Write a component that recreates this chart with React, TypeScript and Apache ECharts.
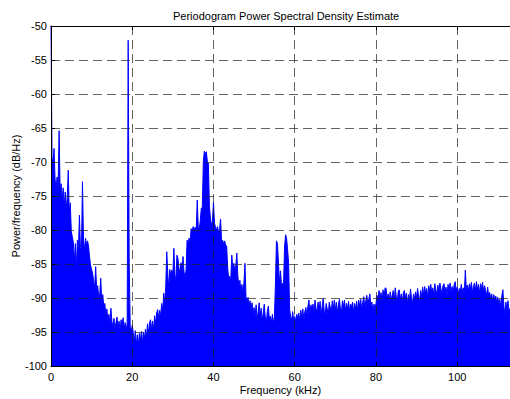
import React, { useEffect, useRef } from "react";
import * as echarts from "echarts";

// Frequency grid step (kHz) of the periodogram samples below
const freqStepKHz = 0.25;
const freqMaxKHz = 113;

// Power spectral density (dB/Hz), one value every 0.25 kHz starting at 0 kHz
const psd0to5 = [-50.0, -69.2, -70.4, -68.0, -72.5, -73.8, -72.2, -73.5, -65.4, -74.2, -73.2, -75.6, -73.8, -76.5, -74.4, -76.8, -75.2, -71.2, -77.5, -76.0];
const psd5to10 = [-80.2, -81.0, -81.8, -84.5, -82.0, -85.6, -81.5, -83.2, -77.8, -82.6, -83.0, -72.9, -81.5, -82.8, -81.2, -82.2, -81.6, -82.4, -84.0, -85.2];
const psd10to15 = [-85.8, -86.4, -87.5, -88.6, -85.4, -89.0, -88.2, -90.0, -89.4, -87.1, -90.6, -89.5, -91.4, -90.8, -92.5, -91.6, -93.2, -92.4, -93.6, -91.5];
const psd15to20 = [-93.5, -94.2, -93.0, -94.6, -93.6, -92.8, -94.4, -93.4, -94.8, -93.2, -94.0, -92.9, -94.5, -93.6, -94.7, -93.8, -52.1, -84.9, -94.2, -95.0];
const psd20to25 = [-94.0, -95.1, -96.5, -94.8, -96.8, -95.4, -97.0, -95.2, -96.2, -94.9, -96.6, -95.0, -96.0, -94.6, -95.8, -93.8, -95.2, -93.6, -93.2, -94.6];
const psd25to30 = [-93.4, -94.8, -92.6, -93.8, -92.2, -91.7, -93.0, -91.8, -92.6, -90.8, -91.9, -89.3, -90.6, -88.2, -83.2, -86.4, -88.6, -85.8, -86.8, -85.9];
const psd30to35 = [-86.5, -82.7, -86.6, -87.3, -83.7, -84.2, -85.6, -86.3, -84.8, -86.0, -83.9, -86.2, -86.8, -85.9, -81.5, -82.0, -81.2, -81.9, -79.8, -80.2];
const psd35to40 = [-79.5, -80.0, -79.6, -80.1, -75.6, -79.6, -79.9, -78.6, -76.8, -76.7, -70.0, -68.4, -68.8, -68.5, -70.0, -70.2, -76.6, -78.2, -79.4, -78.6];
const psd40to45 = [-75.9, -79.0, -79.6, -80.0, -79.5, -80.4, -79.8, -78.4, -81.8, -81.5, -82.0, -81.6, -82.2, -82.4, -85.6, -87.3, -86.8, -87.4, -83.7, -85.4];
const psd45to50 = [-84.9, -85.9, -85.2, -83.4, -86.8, -88.2, -87.4, -89.0, -88.0, -89.3, -87.8, -84.9, -89.8, -90.6, -89.9, -91.2, -90.4, -91.6, -90.7, -92.2];
const psd50to55 = [-91.4, -92.8, -91.0, -93.2, -92.0, -90.7, -92.6, -91.5, -93.4, -92.2, -90.9, -92.8, -93.7, -92.0, -91.2, -93.0, -92.7, -93.6, -92.4, -93.7];
const psd55to60 = [-92.8, -88.0, -81.6, -82.0, -84.9, -87.8, -86.0, -88.3, -87.8, -88.0, -82.5, -80.7, -81.2, -82.9, -84.9, -91.7, -92.8, -93.2, -92.0, -93.4];
const psd60to65 = [-92.7, -93.5, -92.4, -93.0, -92.2, -93.4, -91.8, -92.9, -91.6, -93.3, -92.0, -91.4, -92.6, -91.2, -90.3, -92.4, -91.0, -91.8, -90.9, -92.2];
const psd65to70 = [-90.3, -91.6, -92.1, -90.6, -91.8, -90.5, -92.4, -91.3, -90.1, -91.9, -92.3, -90.8, -91.6, -92.6, -90.6, -91.4, -92.0, -90.4, -91.7, -90.3];
const psd70to75 = [-91.8, -90.6, -92.2, -91.0, -90.2, -91.5, -92.1, -90.4, -91.2, -90.3, -91.9, -90.8, -91.6, -90.5, -92.0, -90.9, -91.3, -90.6, -92.2, -90.8];
const psd75to80 = [-91.6, -90.5, -91.9, -90.3, -91.2, -90.2, -91.8, -90.6, -89.8, -91.4, -90.4, -89.6, -91.0, -90.1, -89.4, -91.3, -90.6, -92.0, -90.9, -91.6];
const psd80to85 = [-90.8, -89.6, -90.4, -88.9, -90.0, -89.2, -90.6, -88.8, -89.9, -88.5, -88.6, -90.2, -89.4, -90.6, -89.1, -90.3, -89.6, -88.9, -90.4, -88.5];
const psd85to90 = [-89.8, -90.5, -89.0, -88.8, -90.2, -89.4, -90.6, -89.2, -88.9, -90.0, -89.3, -90.8, -89.5, -90.4, -88.7, -89.9, -90.9, -89.4, -90.2, -89.1];
const psd90to95 = [-90.0, -88.6, -89.7, -90.5, -88.9, -89.8, -88.4, -89.6, -88.3, -89.4, -88.6, -89.9, -88.2, -89.1, -88.0, -89.3, -88.5, -89.6, -87.9, -88.8];
const psd95to100 = [-89.5, -88.1, -89.0, -87.8, -88.7, -89.4, -88.2, -87.9, -89.1, -88.4, -89.6, -88.0, -88.9, -87.8, -89.2, -88.3, -89.0, -88.1, -87.6, -88.9];
const psd100to105 = [-88.4, -89.5, -88.6, -89.3, -88.0, -89.1, -88.5, -89.4, -85.9, -88.7, -88.1, -89.0, -87.9, -88.6, -87.7, -89.2, -88.3, -87.8, -88.9, -87.6];
const psd105to110 = [-88.8, -88.0, -89.3, -87.9, -88.6, -87.7, -89.1, -88.2, -88.9, -89.6, -88.4, -89.8, -89.2, -90.1, -89.4, -90.6, -89.5, -90.3, -89.7, -90.7];
const psd110to113 = [-89.9, -90.8, -90.2, -91.4, -89.6, -88.8, -91.2, -92.5, -90.6, -91.8, -90.4, -92.1, -91.5];

const yTicks = { min: -100, max: -50, interval: 5 };
const xTicks = { min: 0, max: freqMaxKHz, interval: 20 };

const titleText = "Periodogram Power Spectral Density Estimate";
const xLabel = "Frequency (kHz)";
const yLabel = "Power/frequency (dB/Hz)";

const psd = [
  ...psd0to5, ...psd5to10, ...psd10to15, ...psd15to20, ...psd20to25, ...psd25to30,
  ...psd30to35, ...psd35to40, ...psd40to45, ...psd45to50, ...psd50to55, ...psd55to60,
  ...psd60to65, ...psd65to70, ...psd70to75, ...psd75to80, ...psd80to85, ...psd85to90,
  ...psd90to95, ...psd95to100, ...psd100to105, ...psd105to110, ...psd110to113,
];

export default function App() {
  const ref = useRef<HTMLDivElement>(null);
  useEffect(() => {
    if (!ref.current) return;
    const chart = echarts.init(ref.current, null, { renderer: "svg" });
    const font = "'Liberation Sans', Arial, Helvetica, sans-serif";
    const data = psd.map((v, i) => [i * freqStepKHz, v]);
    const gridLine = { show: true, lineStyle: { color: "#222", width: 1, type: [9, 5], opacity: 0.7 } };
    chart.setOption({
      animation: false,
      backgroundColor: "#fff",
      title: {
        text: titleText,
        left: 168,
        top: 5,
        textStyle: { fontFamily: font, fontSize: 11, fontWeight: "normal", color: "#000" },
      },
      grid: { left: 51, top: 26, right: 0, bottom: 33, containLabel: false, outerBoundsMode: "none" },
      xAxis: [
        {
          type: "value",
          min: xTicks.min,
          max: xTicks.max,
          interval: xTicks.interval,
          z: 3,
          name: xLabel,
          nameLocation: "middle",
          nameGap: 18,
          nameMoveOverlap: false,
          nameTextStyle: { fontFamily: font, fontSize: 11, color: "#000" },
          axisLine: { show: true, lineStyle: { color: "#000", width: 1 } },
          axisTick: { show: true, inside: true, length: 4, lineStyle: { color: "#000" } },
          axisLabel: { fontFamily: font, fontSize: 11, color: "#000", margin: 5, showMaxLabel: false },
          splitLine: gridLine,
        },
        {
          type: "value",
          position: "top",
          min: xTicks.min,
          max: xTicks.max,
          interval: xTicks.interval,
          z: 3,
          axisLine: { show: true, lineStyle: { color: "#000", width: 1 } },
          axisTick: { show: true, inside: true, length: 4, lineStyle: { color: "#000" } },
          axisLabel: { show: false },
          splitLine: { show: false },
        },
      ],
      yAxis: {
        type: "value",
        min: yTicks.min,
        max: yTicks.max,
        interval: yTicks.interval,
        z: 3,
        name: yLabel,
        nameLocation: "middle",
        nameGap: 30,
        nameMoveOverlap: false,
        nameTextStyle: { fontFamily: font, fontSize: 11, color: "#000" },
        axisLine: { show: true, lineStyle: { color: "#000", width: 1 } },
        axisTick: { show: true, inside: true, length: 4, lineStyle: { color: "#000" } },
        axisLabel: { fontFamily: font, fontSize: 11, color: "#000", margin: 4 },
        splitLine: gridLine,
      },
      series: [
        {
          type: "line",
          data,
          showSymbol: false,
          symbol: "none",
          clip: true,
          lineStyle: { color: "#0000ff", width: 1 },
          areaStyle: { color: "#0000ff", opacity: 1, origin: "start" },
          z: 2,
        },
      ],
    });
    return () => chart.dispose();
  }, []);
  return (
    <div
      ref={ref}
      style={{ position: "absolute", left: 0, top: 0, width: 510, height: 399 }}
    />
  );
}
